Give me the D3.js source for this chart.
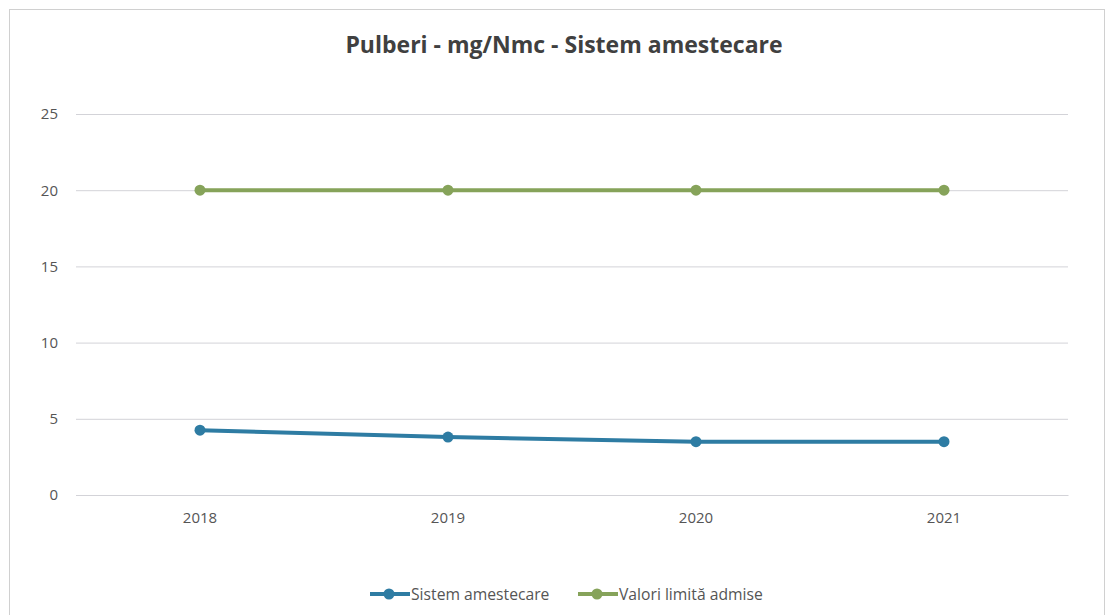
<!DOCTYPE html>
<html><head><meta charset="utf-8">
<script src="https://cdn.jsdelivr.net/npm/d3@7"></script>
<style>body{margin:0;background:#fff;}svg{display:block;font-family:"Open Sans",sans-serif;}</style>
</head><body><svg id="c" width="1106" height="615"></svg>
<script>
const categories = ["2018","2019","2020","2021"];
const sistemValues = [4.25, 3.8, 3.5, 3.5];
const limitValues = [20, 20, 20, 20];
const yTicks = [0,5,10,15,20,25];
const seriesNames = ["Sistem amestecare","Valori limită admise"];
const seriesColors = ["#2e7ca3","#86a35a"];
const title = "Pulberi - mg/Nmc - Sistem amestecare";

const svg = d3.select("#c");
svg.append("rect").attr("x",9.5).attr("y",9.5).attr("width",1095).attr("height",620)
  .attr("fill","none").attr("stroke","#d0d0d0");
const x = d3.scaleBand().domain(categories).range([76,1068]);
const y = d3.scaleLinear().domain([0,25]).range([495,114]);

svg.append("text").attr("x",564).attr("y",53).attr("text-anchor","middle")
  .attr("font-size",23).attr("font-weight","bold").attr("fill","#404040").text(title);

const gy = svg.append("g").attr("transform","translate(76,0)")
  .call(d3.axisLeft(y).tickValues(yTicks).tickSize(-992).tickPadding(18));
gy.select(".domain").remove();
gy.selectAll("line").attr("stroke","#d3d3d8");
gy.selectAll("text").attr("font-size",15).attr("fill","#555").attr("font-family","'Open Sans',sans-serif");

const gx = svg.append("g").attr("transform","translate(0,495)")
  .call(d3.axisBottom(x).tickSize(0).tickPadding(17));
gx.select(".domain").attr("stroke","#d3d3d8");
gx.selectAll("text").attr("font-size",15).attr("fill","#555").attr("font-family","'Open Sans',sans-serif");

const data = [sistemValues, limitValues];
const line = d3.line().x((d,i)=>x(categories[i])+x.bandwidth()/2).y(d=>y(d));
data.forEach((vals,k)=>{
  svg.append("path").datum(vals).attr("d",line).attr("fill","none")
    .attr("stroke",seriesColors[k]).attr("stroke-width",4).attr("stroke-linecap","round");
  svg.selectAll(null).data(vals).enter().append("circle")
    .attr("cx",(d,i)=>x(categories[i])+x.bandwidth()/2).attr("cy",d=>y(d))
    .attr("r",5.5).attr("fill",seriesColors[k]);
});

const legX = [370, 578];
seriesNames.forEach((n,k)=>{
  const g = svg.append("g").attr("transform",`translate(${legX[k]},594)`);
  g.append("line").attr("x1",0).attr("x2",40).attr("stroke",seriesColors[k]).attr("stroke-width",4);
  g.append("circle").attr("cx",19).attr("r",5.5).attr("fill",seriesColors[k]);
  g.append("text").attr("x",41).attr("y",5.5).attr("font-size",15.7).attr("fill","#555").text(n);
});
</script></body></html>
